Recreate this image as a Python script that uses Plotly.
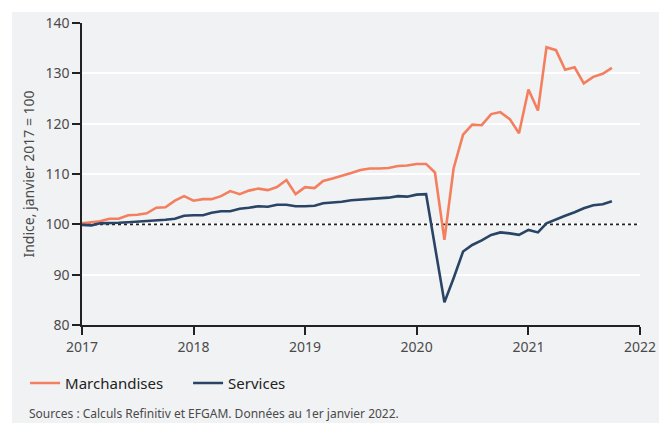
import pandas as pd
import plotly.graph_objects as go

dates = pd.date_range("2017-01-01", periods=58, freq="MS")

marchandises = [
    100.2, 100.4, 100.6, 101.1, 101.1, 101.8, 101.9, 102.2, 103.3, 103.4, 104.7, 105.6,
    104.7, 105.0, 105.0, 105.6, 106.6, 106.0, 106.7, 107.1, 106.8, 107.4, 108.8, 106.0,
    107.4, 107.2, 108.6, 109.1, 109.6, 110.2, 110.8, 111.1, 111.1, 111.2, 111.6, 111.7,
    112.0, 112.0, 110.3, 96.9, 111.1, 117.8, 119.8, 119.7, 121.9, 122.3, 120.9, 118.1,
    126.8, 122.6, 135.2, 134.6, 130.7, 131.2, 128.0, 129.3, 129.9, 131.1,
]
services = [
    99.9, 99.8, 100.2, 100.2, 100.3, 100.4, 100.5, 100.6, 100.8, 100.9, 101.1, 101.7,
    101.8, 101.8, 102.3, 102.6, 102.6, 103.1, 103.3, 103.6, 103.5, 103.9, 103.9, 103.6,
    103.6, 103.7, 104.2, 104.3, 104.5, 104.8, 104.9, 105.0, 105.2, 105.3, 105.6, 105.5,
    105.9, 106.0, 95.6, 84.5, 89.3, 94.6, 95.9, 96.8, 97.9, 98.4, 98.2, 97.9,
    98.9, 98.4, 100.2, 101.0, 101.7, 102.4, 103.2, 103.8, 104.0, 104.6,
]

base_value = 100
base_span = ["2017-01-01", "2022-01-01"]

y_ticks = [80, 90, 100, 110, 120, 130, 140]
x_ticks = ["2017", "2018", "2019", "2020", "2021", "2022"]

ORANGE = "#f47f5e"
NAVY = "#2a4466"
PANEL = "#f1f2f4"
TXT = "#4a4a4a"
FONT = "Noto Sans"

fig = go.Figure()
# reference line at base 100
fig.add_trace(go.Scatter(x=base_span, y=[base_value, base_value], mode="lines",
                         showlegend=False, hoverinfo="skip",
                         line=dict(color="#222222", width=1.6, dash="dot")))
fig.add_trace(go.Scatter(x=dates, y=marchandises, mode="lines", name="Marchandises",
                         line=dict(color=ORANGE, width=2.6)))
fig.add_trace(go.Scatter(x=dates, y=services, mode="lines", name="Services",
                         line=dict(color=NAVY, width=2.6)))

# grey panel
fig.add_shape(type="rect", xref="paper", yref="paper",
              x0=-0.1254, x1=1.0412, y0=-0.34, y1=1.0364,
              fillcolor=PANEL, line=dict(width=0), layer="below")

fig.update_layout(
    width=659, height=415,
    margin=dict(l=74, r=27, t=15, b=98, autoexpand=False),
    paper_bgcolor="white",
    plot_bgcolor=PANEL,
    font=dict(family=FONT, size=14, color=TXT),
    showlegend=True,
    legend=dict(orientation="h", x=-0.102, xanchor="left", y=-0.138, yanchor="top",
                font=dict(size=15, color="#222222"), bgcolor="rgba(0,0,0,0)",
                entrywidth=118, entrywidthmode="pixels", tracegroupgap=0),
    xaxis=dict(
        type="date",
        range=["2017-01-01", "2022-01-01"],
        tickvals=[f"{y}-01-01" for y in x_ticks],
        ticktext=x_ticks,
        showgrid=False,
        showline=True, linecolor="#222222", linewidth=1.5,
        ticks="outside", ticklen=8, tickwidth=1.5, tickcolor="#222222",
        tickfont=dict(size=14, color=TXT),
        zeroline=False,
    ),
    yaxis=dict(
        range=[80, 140],
        tickvals=y_ticks,
        showgrid=True, gridcolor="white", gridwidth=1.5,
        showline=True, linecolor="#222222", linewidth=1.5,
        ticks="outside", ticklen=8, tickwidth=1.5, tickcolor="#222222",
        tickfont=dict(size=14, color=TXT),
        title=dict(text="Indice, janvier 2017 = 100", font=dict(size=14, color=TXT), standoff=8),
        zeroline=False,
    ),
)

fig.add_annotation(text="Sources : Calculs Refinitiv et EFGAM. Données au 1er janvier 2022.",
                   xref="paper", yref="paper", x=(19 - 74) / 558, y=(317 - 405) / 302,
                   xanchor="left", yanchor="middle", showarrow=False,
                   font=dict(size=12, color=TXT, family=FONT))

fig.write_html("out.html")
